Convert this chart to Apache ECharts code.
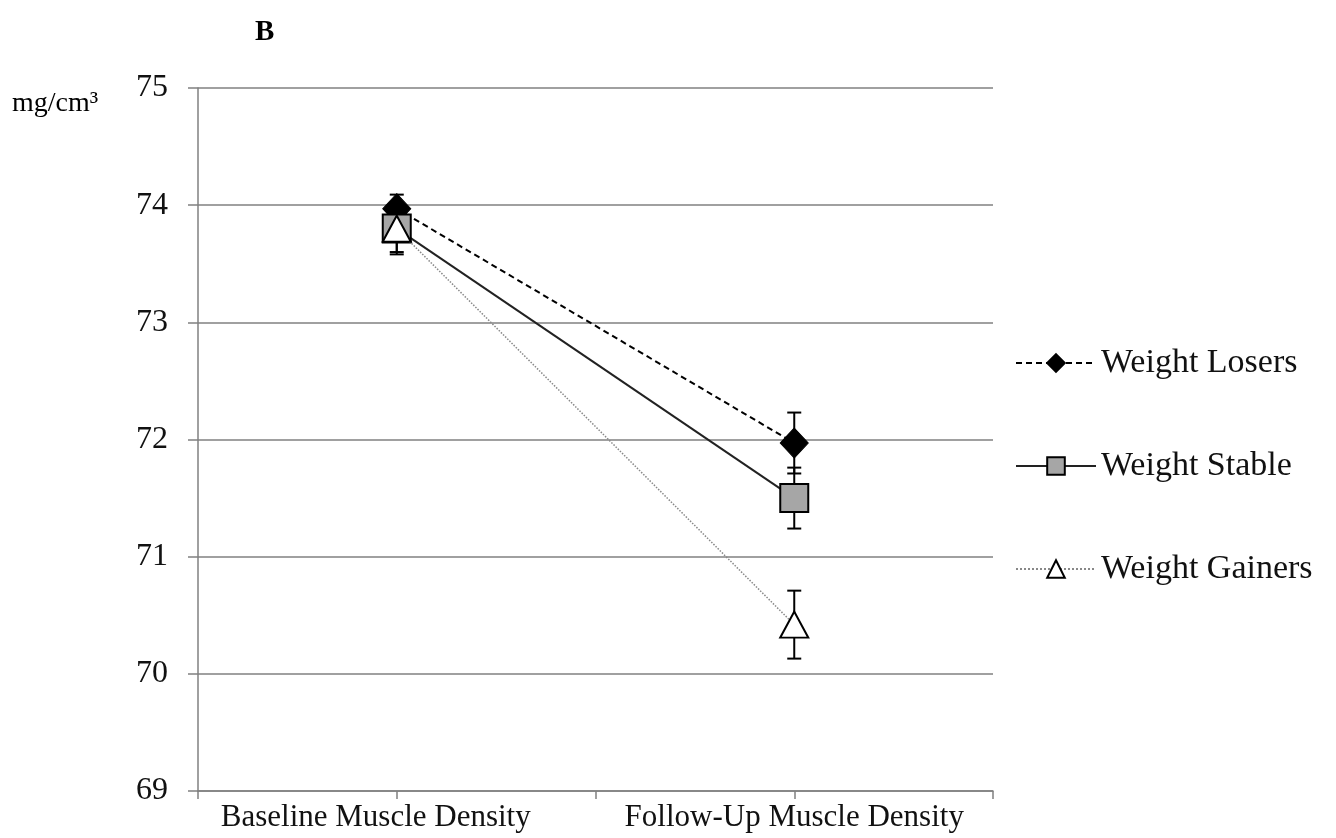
<!DOCTYPE html>
<html>
<head>
<meta charset="utf-8">
<script src="https://cdn.jsdelivr.net/npm/echarts@6/dist/echarts.min.js"></script>
<style>html,body{margin:0;padding:0;background:#fff;}#c{width:1336px;height:838px;}</style>
</head>
<body>
<div id="c"></div>
<script>
const categories = ['Baseline Muscle Density', 'Follow-Up Muscle Density'];
const yTicks = [69, 70, 71, 72, 73, 74, 75];
const losers = [73.97, 71.97];
const losersErr = [0.12, 0.26];
const stable = [73.80, 71.50];
const stableErr = [0.20, 0.26];
const gainers = [73.80, 70.42];
const gainersErr = [0.22, 0.29];

const FONT = '"Liberation Serif", "Times New Roman", serif';

function pts(vals) { return vals.map((v, i) => [i + 0.5, v]); }
function errs(vals, e) { return vals.map((v, i) => [i + 0.5, v - e[i], v + e[i]]); }

function errSeries(name, vals, e) {
  return {
    type: 'custom',
    name: name + ' err',
    z: 1,
    silent: true,
    data: errs(vals, e),
    renderItem: function (params, api) {
      const x = api.value(0);
      const lo = api.coord([x, api.value(1)]);
      const hi = api.coord([x, api.value(2)]);
      const w = 7;
      const st = { stroke: '#000', lineWidth: 2 };
      return {
        type: 'group',
        children: [
          { type: 'line', shape: { x1: lo[0], y1: lo[1], x2: hi[0], y2: hi[1] }, style: st },
          { type: 'line', shape: { x1: lo[0] - w, y1: lo[1], x2: lo[0] + w, y2: lo[1] }, style: st },
          { type: 'line', shape: { x1: hi[0] - w, y1: hi[1], x2: hi[0] + w, y2: hi[1] }, style: st }
        ]
      };
    }
  };
}

const chart = echarts.init(document.getElementById('c'));
chart.setOption({
  animation: false,
  backgroundColor: '#fff',
  title: {
    text: 'B', left: 250, top: 13,
    textStyle: { fontFamily: FONT, fontSize: 29, fontWeight: 'bold', color: '#000' }
  },
  graphic: [{
    type: 'text', left: 12, top: 90,
    style: { text: 'mg/cm³', font: '28px ' + FONT, fill: '#000' }
  }],
  grid: { left: 198, right: 343, top: 88, bottom: 47, containLabel: false },
  legend: {
    orient: 'vertical', left: 1010, top: 341,
    itemWidth: 80, itemHeight: 22, itemGap: 69,
    textStyle: { fontFamily: FONT, fontSize: 34, color: '#111' },
    data: ['Weight Losers', 'Weight Stable', 'Weight Gainers']
  },
  xAxis: {
    type: 'value', min: 0, max: 2, interval: 0.5,
    axisLine: { show: true, lineStyle: { color: '#808080', width: 1.5 } },
    axisTick: { show: true, length: 8, lineStyle: { color: '#808080', width: 1.5 } },
    splitLine: { show: false },
    axisLabel: {
      margin: 11, fontFamily: FONT, fontSize: 31, color: '#111',
      showMinLabel: true, showMaxLabel: true,
      rich: {
        a: { fontFamily: FONT, fontSize: 31, color: '#111', padding: [0, 42, 0, 0] },
        b: { fontFamily: FONT, fontSize: 31, color: '#111' }
      },
      formatter: function (v) {
        if (Math.abs(v - 0.5) < 1e-6) return '{a|' + categories[0] + '}';
        if (Math.abs(v - 1.5) < 1e-6) return '{b|' + categories[1] + '}';
        return '';
      }
    }
  },
  yAxis: {
    type: 'value', min: yTicks[0], max: yTicks[yTicks.length - 1], interval: 1,
    axisLine: { show: true, lineStyle: { color: '#808080', width: 1.5 } },
    axisTick: { show: true, length: 10, lineStyle: { color: '#808080', width: 1.5 } },
    splitLine: { show: true, lineStyle: { color: '#808080', width: 1.5 } },
    axisLabel: { margin: 30, fontFamily: FONT, fontSize: 32, color: '#111' }
  },
  series: [
    errSeries('Weight Losers', losers, losersErr),
    errSeries('Weight Stable', stable, stableErr),
    errSeries('Weight Gainers', gainers, gainersErr),
    {
      name: 'Weight Losers', type: 'line', z: 3, data: pts(losers),
      symbol: 'diamond', symbolSize: [28, 30],
      lineStyle: { color: '#000', width: 2, type: [6, 4] },
      itemStyle: { color: '#000', borderColor: '#000', borderWidth: 1 }
    },
    {
      name: 'Weight Stable', type: 'line', z: 4, data: pts(stable),
      symbol: 'rect', symbolSize: [28, 28],
      lineStyle: { color: '#222', width: 2, type: 'solid' },
      itemStyle: { color: '#a6a6a6', borderColor: '#000', borderWidth: 2 }
    },
    {
      name: 'Weight Gainers', type: 'line', z: 5, data: pts(gainers),
      symbol: 'triangle', symbolSize: [28, 26],
      lineStyle: { color: '#888', width: 1.5, type: 'dotted' },
      itemStyle: { color: '#fff', borderColor: '#000', borderWidth: 2 }
    }
  ]
});
</script>
</body>
</html>
